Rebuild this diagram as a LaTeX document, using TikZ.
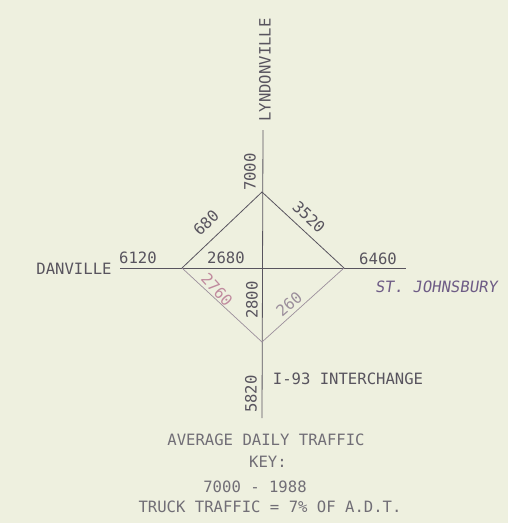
\documentclass[tikz,border=0pt]{standalone}
\usepackage{fontspec}
\usetikzlibrary{positioning,calc}
\newfontfamily\letra{DejaVu Sans Mono}
\definecolor{papel}{HTML}{EEF0DF}
\definecolor{tinta}{HTML}{58545E}
\definecolor{tenue}{HTML}{9C8F9C}
\definecolor{rosa}{HTML}{C08A9E}
\definecolor{morado}{HTML}{6E5C86}

\begin{document}
\begin{tikzpicture}[x=1pt, y=-1pt, font=\letra\fontsize{15.6}{18}\selectfont,
      r/.style={draw=tinta, line width=0.8pt},
      rt/.style={draw=tenue, line width=0.7pt},
      et/.style={text=tinta, inner sep=0pt},
      nota/.style={text=tinta!85, inner sep=0pt}]

    \useasboundingbox[fill=papel] (0,0) rectangle (508,523);

    % Extremos de las carreteras y vértices del rombo
    \coordinate (lyn) at (263,130);
    \coordinate (dan) at (120,268);
    \coordinate (stj) at (406,268);
    \coordinate (ifin) at (262,418);
    \coordinate (arr) at (262,192);
    \coordinate (izq) at (182,268);
    \coordinate (der) at (344,268);
    \coordinate (aba) at (262,342);

    % Carreteras
    \draw[r] (lyn) -- (ifin);
    \draw[r] (dan) -- (stj);

    % Rombo del enlace
    \draw[r] (izq) -- (arr) -- (der);
    \draw[rt] (izq) -- (aba) -- (der);

    % Nombres de los destinos
    \node[et, rotate=90] (nlyn) at (265,70) {LYNDONVILLE};
    \node[et] (ndan) at (74,269) {DANVILLE};
    \node[et, text=morado, xslant=0.15] (nstj) at (437,287) {ST. JOHNSBURY};
    \node[et] (ni93) at (348,379) {I-93 INTERCHANGE};

    % Volumenes
    \node[et, rotate=90] (v7000) at (250,172) {7000};
    \node[et] (v6120) at (138,258) {6120};
    \node[et] (v6460) at (378,259) {6460};
    \node[et] (v2680) at (226,258) {2680};
    \node[et, rotate=44] (v680) at (206,223) {680};
    \node[et, rotate=-43] (v3520) at (309,217) {3520};
    \node[et, text=rosa, rotate=-48] (v2760) at (217,290) {2760};
    \node[et, rotate=90] (v2800) at (252,300) {2800};
    \node[et, text=tenue, rotate=41] (v260) at (289,304) {260};
    \node[et, rotate=90] (v5820) at (251,394) {5820};

    % Leyenda
    \node[nota] (tit) at (266,440) {AVERAGE DAILY TRAFFIC};
    \node[nota] (key) at (268,462) {KEY:};
    \node[nota] (anio) at (255,487) {7000 - 1988};
    \node[nota] (cam) at (270,507) {TRUCK TRAFFIC = 7\% OF A.D.T.};
  \end{tikzpicture}
\end{document}
